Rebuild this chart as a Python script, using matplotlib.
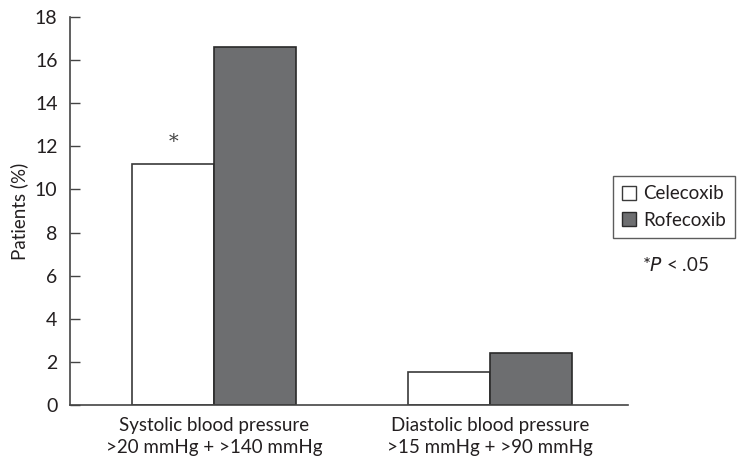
import numpy as np
import matplotlib.pyplot as plt
from matplotlib.patches import Patch

plt.rcParams['font.family'] = ['Lato', 'DejaVu Sans']

groups = ['Systolic blood pressure\n>20 mmHg + >140 mmHg',
          'Diastolic blood pressure\n>15 mmHg + >90 mmHg']
celecoxib = [11.2, 1.55]
rofecoxib = [16.6, 2.4]
yticks = np.arange(0, 19, 2)

txt = '#231f20'
fig = plt.figure(figsize=(7.43, 4.67), dpi=100)
ax = fig.add_axes([0.0942, 0.1328, 0.7510, 0.8308])

x = np.arange(len(groups))
w = 0.296
ax.bar(x - w / 2, celecoxib, w, color='white', edgecolor='#3a3a3a', linewidth=1.2)
ax.bar(x + w / 2, rofecoxib, w, color='#6d6e70', edgecolor='#2a2a2a', linewidth=1.2)

ax.text(x[0] - w / 2, celecoxib[0] + 0.6, '*', ha='center', va='bottom',
        fontsize=14, color='#444444', family='DejaVu Serif')

ax.set_xlim(-0.522, 1.5)
ax.set_ylim(0, 18)
ax.set_yticks(yticks)
ax.set_xticks(x)
ax.set_xticklabels(groups, fontsize=13.5, color=txt, linespacing=1.3)
ax.tick_params(axis='x', length=0, pad=9)
ax.tick_params(axis='y', direction='in', length=7, width=1, labelsize=14,
               colors='#444444', labelcolor=txt, pad=9)
ax.set_ylabel('Patients (%)', fontsize=13.5, color=txt, labelpad=5)

for s in ['top', 'right']:
    ax.spines[s].set_visible(False)
for s in ['left', 'bottom']:
    ax.spines[s].set_color('#444444')
    ax.spines[s].set_linewidth(1.2)

handles = [Patch(facecolor='white', edgecolor='#3a3a3a', label='Celecoxib'),
           Patch(facecolor='#6d6e70', edgecolor='#2a2a2a', label='Rofecoxib')]
leg = fig.legend(handles=handles, loc='upper left', bbox_to_anchor=(613 / 743, 1 - 176 / 467),
                 fontsize=13.5, frameon=True, fancybox=False, edgecolor='#333333',
                 handlelength=0.75, handleheight=0.75, handletextpad=0.35,
                 borderpad=0.5, labelspacing=0.5, borderaxespad=0)
leg.get_frame().set_linewidth(1)
for t in leg.get_texts():
    t.set_color(txt)

fig.text(675 / 743, 1 - 265 / 467, r'*$\it{P}$ < .05', ha='center', va='center',
         fontsize=13.5, color=txt)

fig.savefig('out.png', dpi=100)
